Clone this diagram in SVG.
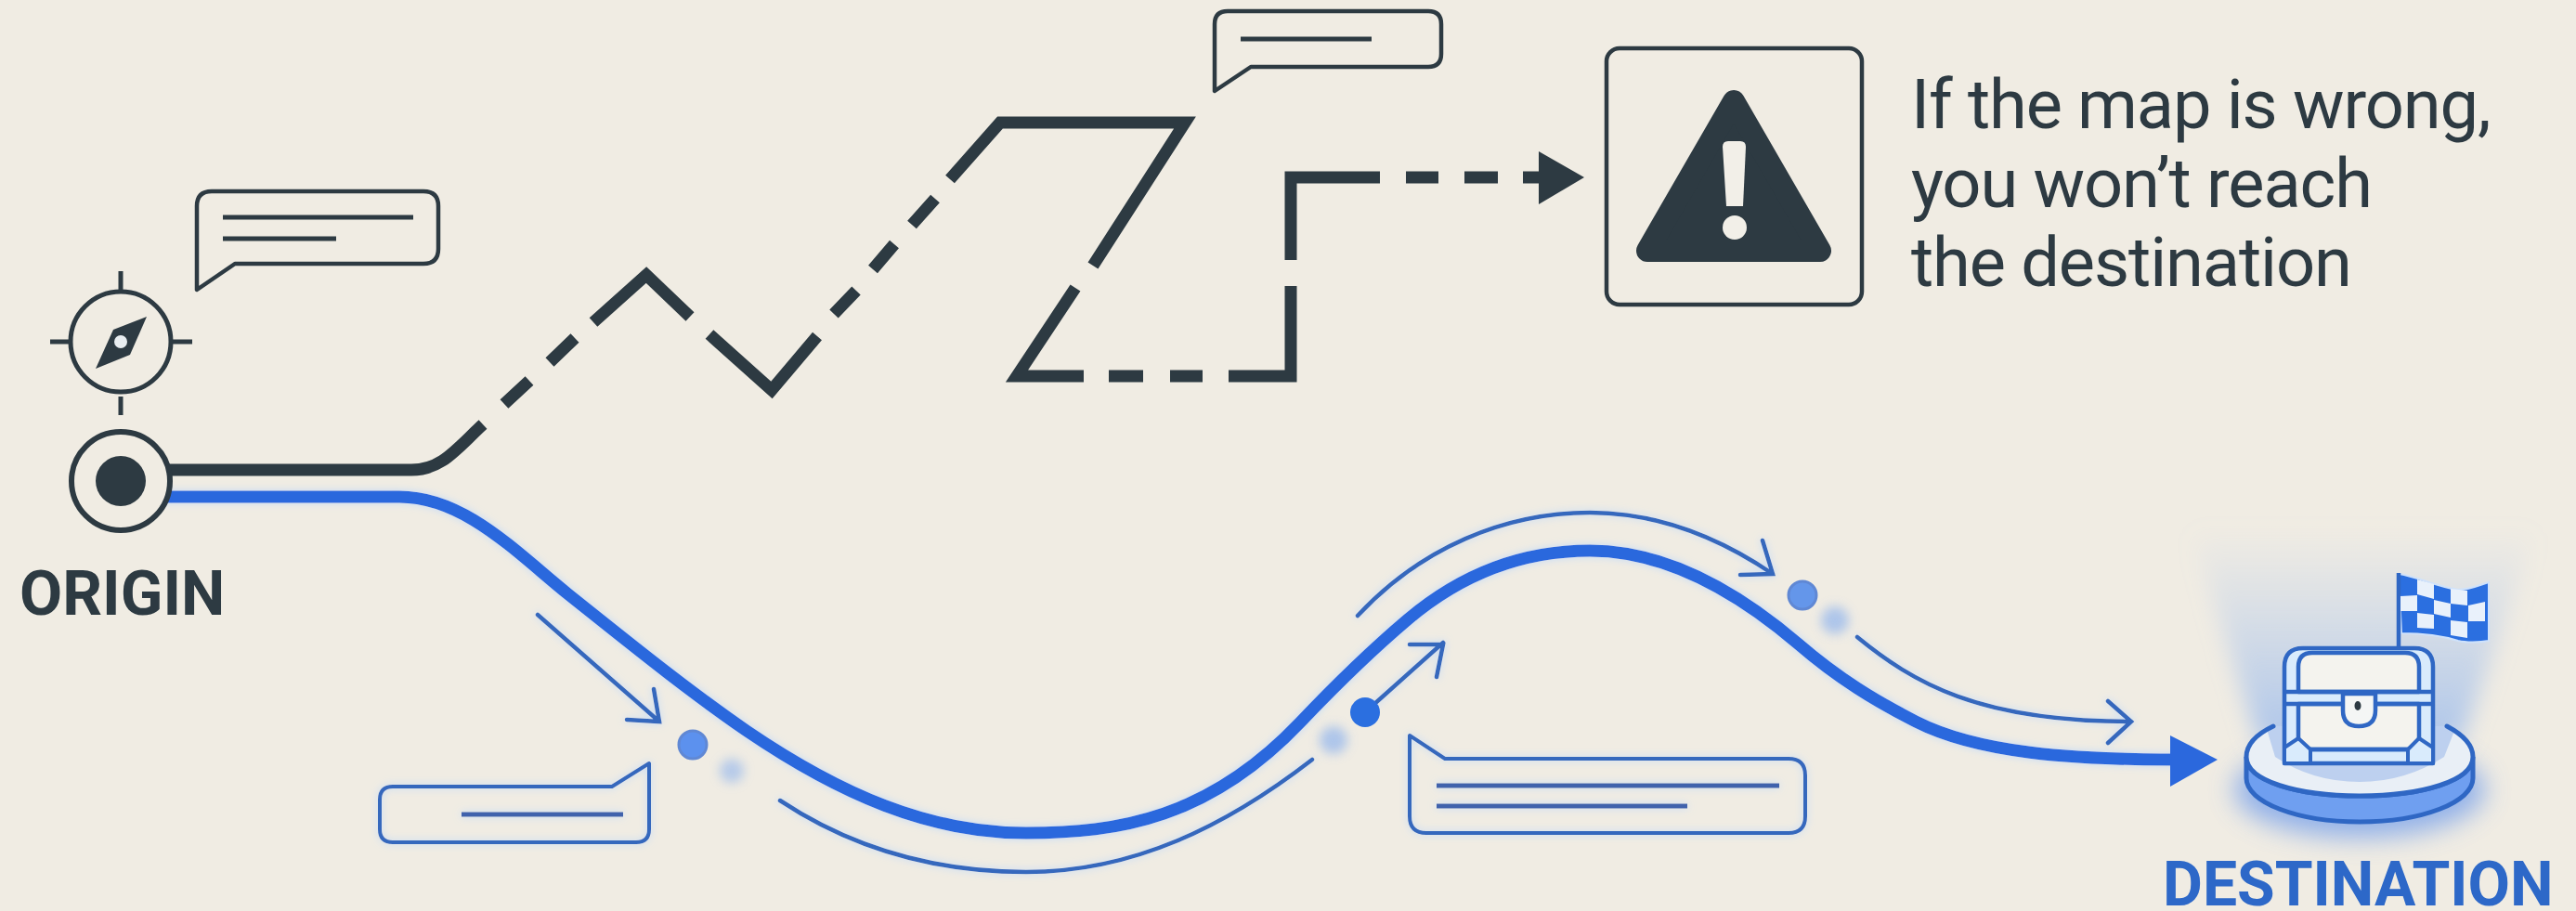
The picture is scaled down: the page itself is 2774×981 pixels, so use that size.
<svg xmlns="http://www.w3.org/2000/svg" width="2774" height="981" viewBox="0 0 2774 981">
<style>
.d{fill:none;stroke:#2d3a42;stroke-width:13;stroke-linejoin:miter;stroke-miterlimit:6}
.t{fill:none;stroke:#3567bd;stroke-width:4.5;stroke-linecap:round;stroke-linejoin:miter}
.bb{fill:none;stroke:#3567bd;stroke-width:4;stroke-linejoin:round}
.bl{fill:none;stroke:#3f62ac;stroke-width:5}
.db{fill:none;stroke:#2d3a42;stroke-width:4.5;stroke-linejoin:round}
.dl{fill:none;stroke:#2d3a42;stroke-width:5}
.c{fill:none;stroke:#2f67c4;stroke-width:4.5;stroke-linejoin:round}
.lab{font-family:Roboto,"Liberation Sans",sans-serif;font-weight:700;font-size:66px}
.msg{font-family:Roboto,"Liberation Sans",sans-serif;font-size:74px;letter-spacing:-1.1px;fill:#2d3a42}
.w{fill:#e9f1fb}
.dot{stroke:#6088d4;stroke-width:3}
</style>
<defs>
<filter id="halo" x="-10%" y="-30%" width="120%" height="160%"><feGaussianBlur in="SourceGraphic" stdDeviation="4" result="b"/><feFlood flood-color="#bcd8fb" flood-opacity="0.9"/><feComposite in2="b" operator="in"/><feMerge><feMergeNode/><feMergeNode in="SourceGraphic"/></feMerge></filter>
<filter id="blur6" x="-100%" y="-100%" width="300%" height="300%"><feGaussianBlur stdDeviation="6"/></filter>
<filter id="blur14" x="-30%" y="-60%" width="160%" height="220%"><feGaussianBlur stdDeviation="14"/></filter>
<filter id="blurBeam" x="-20%" y="-20%" width="140%" height="140%"><feGaussianBlur stdDeviation="12"/></filter>
<linearGradient id="beam" x1="0" y1="0" x2="0" y2="1"><stop offset="0" stop-color="#a9c4ee" stop-opacity="0"/><stop offset="1" stop-color="#9dbcec" stop-opacity="0.8"/></linearGradient>
</defs>
<rect width="2774" height="981" fill="#f0ece3"/>

<g id="connectors">
<g id="wrong-route">
<path class="d" d="M175 506H443C475 506 490 485 520 457"/>
<path class="d" d="M543 435L570 410M592 390L619 364"/>
<path class="d" d="M639 347L696 296L743 341"/>
<path class="d" d="M764 360L831 420L880 362"/>
<path class="d" d="M898 338L922 313M940 290L963 263M982 242L1007 214"/>
<path class="d" d="M1023 193L1077 132H1276L1177 286"/>
<path class="d" d="M1158 310L1095 405H1167M1194 405H1231M1260 405H1295M1323 405H1390V308"/>
<path class="d" d="M1390 280V191H1486M1514 191H1549M1577 191H1613M1640 191H1660"/>
<path fill="#2d3a42" d="M1657 163L1706 191L1657 220Z"/>
</g>
<g id="right-route">
<path filter="url(#halo)" fill="none" stroke="#2b68dd" stroke-width="13" d="M175 535H430C500 535 555 594 612 640C676 691 740 743 804 787C904 855 1000 897 1105 897C1205 897 1302 881 1400 778C1439 737 1477 700 1516 667C1581 612 1647 593 1712 593C1787 593 1861 629 1936 693C1980 731 2020 755 2063 777C2130 811 2230 818 2345 818"/>
<path fill="#2b68dd" d="M2337 792L2388 818L2337 847Z"/>
</g>
<g id="guides" filter="url(#halo)">
<path class="t" d="M579 662L710 777M704 742L710 777L675 775"/>
<path class="t" d="M840 862C920 915 1010 939 1105 939C1220 939 1320 890 1413 818"/>
<path class="t" d="M1470 767L1554 692M1518 694H1554L1547 729"/>
<path class="t" d="M1462 663C1530 590 1620 552 1712 552C1785 552 1850 578 1909 618M1898 582L1909 618L1874 619"/>
<path class="t" d="M2000 686C2060 735 2130 777 2295 777M2270 755L2295 777L2270 800"/>
</g>
</g>

<g id="origin">
<circle cx="130" cy="518" r="53" fill="#f0ece3" stroke="#2d3a42" stroke-width="6"/>
<circle cx="130" cy="518" r="27" fill="#2d3a42"/>
<text class="lab" x="21" y="662" fill="#2d3a42" style="font-size:67px">ORIGIN</text>
</g>
<g id="compass">
<circle cx="130" cy="368" r="54" fill="none" stroke="#2d3a42" stroke-width="5"/>
<path class="dl" d="M130 292V314M130 427V447M54 368H76M185 368H207"/>
<path fill="#2d3a42" d="M158 341L140 382L103 397L122 355Z"/>
<circle cx="130" cy="368" r="7" fill="#e8edf0"/>
</g>
<g id="bubble-origin">
<path class="db" d="M212 312V222Q212 206 228 206H456Q472 206 472 222V268Q472 284 456 284H253Z"/>
<path class="dl" d="M240 234H445M240 257H362"/>
</g>
<g id="bubble-top">
<path class="db" d="M1308 98V26Q1308 12 1322 12H1538Q1552 12 1552 26V58Q1552 72 1538 72H1347Z"/>
<path class="dl" d="M1336 42H1477"/>
</g>
<g id="warning">
<rect x="1730" y="52" width="275" height="276" rx="14" fill="none" stroke="#2d3a42" stroke-width="4.5"/>
<path fill="#2d3a42" stroke="#2d3a42" stroke-width="24" stroke-linejoin="round" d="M1867 109L1960 270H1774Z"/>
<path fill="#f2efe8" d="M1855 158Q1855 152 1861 152H1874Q1880 152 1880 158L1877 222H1859Z"/>
<circle cx="1868" cy="245" r="13" fill="#f2efe8"/>
</g>
<g id="message">
<text class="msg" x="2058" y="138">If the map is wrong,</text>
<text class="msg" x="2058" y="223">you won’t reach</text>
<text class="msg" x="2058" y="308">the destination</text>
</g>
<g id="marker-1">
<circle cx="788" cy="830" r="13" fill="#9dbcec" opacity=".7" filter="url(#blur6)"/>
<circle class="dot" cx="746" cy="802" r="15" fill="#5c91ee"/>
</g>
<g id="marker-2">
<circle cx="1436" cy="797" r="15" fill="#9dbcec" opacity=".8" filter="url(#blur6)"/>
<circle cx="1470" cy="767" r="16" fill="#2b6fe0"/>
</g>
<g id="marker-3">
<circle cx="1976" cy="668" r="15" fill="#9dbcec" opacity=".8" filter="url(#blur6)"/>
<circle class="dot" cx="1941" cy="641" r="15" fill="#6496ea"/>
</g>
<g id="bubble-low-left" filter="url(#halo)">
<path class="bb" d="M699 822V893Q699 907 685 907H423Q409 907 409 893V861Q409 847 423 847H659Z"/>
<path class="bl" d="M497 877H671"/>
</g>
<g id="bubble-low-right" filter="url(#halo)">
<path class="bb" d="M1518 792V879Q1518 897 1536 897H1926Q1944 897 1944 879V835Q1944 817 1926 817H1556Z"/>
<path class="bl" d="M1547 846H1916M1547 868H1817"/>
</g>
<g id="destination">
<path fill="url(#beam)" filter="url(#blurBeam)" d="M2360 570H2730L2650 800H2432Z"/>
<ellipse cx="2541" cy="850" rx="135" ry="52" fill="#6f9cec" opacity=".75" filter="url(#blur14)"/>
<path fill="#6f9ff0" stroke="#2f67c4" stroke-width="5" d="M2419 815V838C2419 864 2474 885 2541 885C2608 885 2663 864 2663 838V815C2663 841 2608 857 2541 857C2474 857 2419 841 2419 815Z"/>
<path fill="#e9eff6" d="M2419 815C2419 800 2432 790 2448 782L2635 782C2650 790 2663 800 2663 815C2663 841 2608 857 2541 857C2474 857 2419 841 2419 815Z"/>
<path fill="#bdd0ef" d="M2440 782H2645L2632 815Q2590 842 2541 842Q2490 842 2450 815Z"/>
<path fill="none" stroke="#2f67c4" stroke-width="5" stroke-linecap="round" d="M2448 782C2429 791 2419 802 2419 815C2419 841 2474 857 2541 857C2608 857 2663 841 2663 815C2663 802 2652 791 2635 782"/>
<path class="c" style="fill:#d9ebfc" d="M2460 822V718Q2460 698 2480 698H2600Q2620 698 2620 718V822Z"/>
<path style="fill:#f4f3ee" class="c" d="M2475 745V718Q2475 703 2490 703H2590Q2605 703 2605 718V745ZM2475 758H2605V807H2475Z"/>
<path class="c" d="M2460 745H2620M2460 758H2620"/>
<path fill="#d9ebfc" stroke="#2f67c4" stroke-width="4" stroke-linejoin="round" d="M2460 822V805L2475 795L2488 807V822ZM2620 822V805L2605 795L2593 807V822Z"/>
<path class="c" d="M2488 807H2593"/>
<path fill="#f4f6f5" stroke="#2f67c4" stroke-width="4.5" d="M2523 747H2558V765Q2558 782 2540 782Q2523 782 2523 765Z"/>
<ellipse cx="2539" cy="760" rx="3.5" ry="5" fill="#2d3a42"/>
<path fill="#2b6fe0" stroke="#cfe2fb" stroke-width="2" d="M2583 618C2600 620 2625 632 2647 635C2660 635 2670 630 2680 627V690C2670 692 2655 692 2647 690C2625 683 2605 682 2586 682Z"/>
<path stroke="#2f67c4" stroke-width="4.5" d="M2583 617V698"/>
<g class="w">
<path d="M2603 624L2621 629V645L2603 640Z"/>
<path d="M2639 634L2657 636V652L2639 650Z"/>
<path d="M2585 642L2603 641V658L2585 658Z"/>
<path d="M2621 646L2639 650V665L2621 661Z"/>
<path d="M2658 652L2676 648V669L2658 669Z"/>
<path d="M2603 660L2621 662V677L2603 676Z"/>
<path d="M2639 668L2657 670V687L2639 684Z"/>
</g>
<text class="lab" x="2329" y="975" fill="#2d68c8">DESTINATION</text>
</g>
</svg>
